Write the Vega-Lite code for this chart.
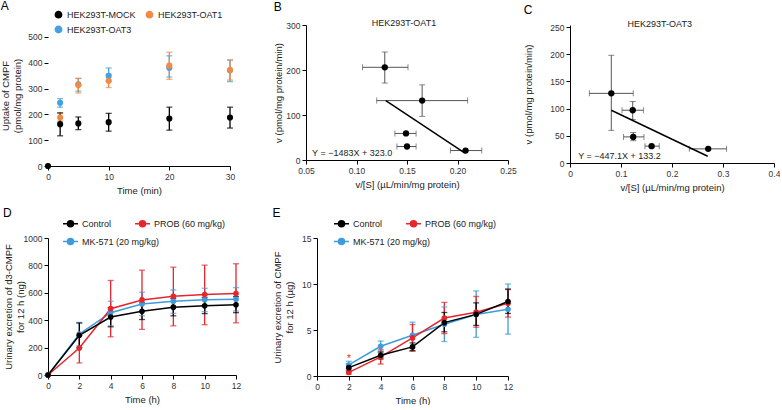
{
  "$schema": "https://vega.github.io/schema/vega-lite/v6.json",
  "background": "white",
  "padding": {"left": 0, "top": 0, "right": 0, "bottom": 0},
  "config": {
    "font": "Liberation Sans",
    "view": {"stroke": null},
    "axis": {"grid": false, "domainColor": "#000", "domainWidth": 1, "tickColor": "#000", "tickSize": 4, "labelFontSize": 8.5, "labelColor": "#333", "labelPadding": 2, "labelFlush": false, "labelOverlap": false, "titleFontSize": 9.5, "titleFontWeight": "normal", "titleColor": "#222", "titlePadding": 5, "titleLineHeight": 12, "labelFont": "Liberation Sans", "titleFont": "Liberation Sans"},
    "legend": {"labelFont": "Liberation Sans", "labelFontSize": 9, "labelColor": "#222"},
    "title": {"anchor": "start", "frame": "bounds", "fontSize": 12, "fontWeight": "normal", "color": "#000", "offset": 2, "font": "Liberation Sans"}
  },
  "datasets": {
    "uptake": [
      {"g": "HEK293T-OAT3", "t": 2, "y": 245, "lo": 228, "hi": 261},
      {"g": "HEK293T-OAT3", "t": 5, "y": 317, "lo": 290, "hi": 339},
      {"g": "HEK293T-OAT3", "t": 10, "y": 349, "lo": 328, "hi": 380},
      {"g": "HEK293T-OAT3", "t": 20, "y": 381, "lo": 345, "hi": 427},
      {"g": "HEK293T-OAT3", "t": 30, "y": 371, "lo": 327, "hi": 411},
      {"g": "HEK293T-OAT1", "t": 2, "y": 188, "lo": 174, "hi": 204},
      {"g": "HEK293T-OAT1", "t": 5, "y": 314, "lo": 283, "hi": 340},
      {"g": "HEK293T-OAT1", "t": 10, "y": 330, "lo": 304, "hi": 356},
      {"g": "HEK293T-OAT1", "t": 20, "y": 389, "lo": 336, "hi": 441},
      {"g": "HEK293T-OAT1", "t": 30, "y": 372, "lo": 333, "hi": 411},
      {"g": "HEK293T-MOCK", "t": 0, "y": 0, "lo": null, "hi": null},
      {"g": "HEK293T-MOCK", "t": 2, "y": 162, "lo": 117, "hi": 206},
      {"g": "HEK293T-MOCK", "t": 5, "y": 165, "lo": 141, "hi": 190},
      {"g": "HEK293T-MOCK", "t": 10, "y": 170, "lo": 135, "hi": 204},
      {"g": "HEK293T-MOCK", "t": 20, "y": 184, "lo": 139, "hi": 228},
      {"g": "HEK293T-MOCK", "t": 30, "y": 188, "lo": 147, "hi": 228}
    ],
    "oat1": [
      {"s": 0.128, "v": 206, "slo": 0.106, "shi": 0.151, "vlo": 171, "vhi": 240},
      {"s": 0.165, "v": 132, "slo": 0.120, "shi": 0.210, "vlo": 97, "vhi": 167},
      {"s": 0.149, "v": 59, "slo": 0.138, "shi": 0.159, "vlo": null, "vhi": null},
      {"s": 0.150, "v": 30, "slo": 0.140, "shi": 0.159, "vlo": null, "vhi": null},
      {"s": 0.208, "v": 21, "slo": 0.193, "shi": 0.224, "vlo": null, "vhi": null}
    ],
    "oat1fit": [{"s": 0.129, "v": 131.7}, {"s": 0.207, "v": 16.0}],
    "oat3": [
      {"s": 0.081, "v": 128, "slo": 0.038, "shi": 0.124, "vlo": 60, "vhi": 198},
      {"s": 0.123, "v": 97, "slo": 0.102, "shi": 0.144, "vlo": 80, "vhi": 113},
      {"s": 0.124, "v": 48, "slo": 0.105, "shi": 0.145, "vlo": 41, "vhi": 56},
      {"s": 0.160, "v": 31, "slo": 0.147, "shi": 0.175, "vlo": null, "vhi": null},
      {"s": 0.271, "v": 26, "slo": 0.234, "shi": 0.307, "vlo": null, "vhi": null}
    ],
    "oat3fit": [{"s": 0.081, "v": 97.0}, {"s": 0.270, "v": 12.5}],
    "d3": [
      {"g": "MK-571 (20 mg/kg)", "t": 0, "y": 0, "lo": null, "hi": null},
      {"g": "MK-571 (20 mg/kg)", "t": 2, "y": 298, "lo": 213, "hi": 384},
      {"g": "MK-571 (20 mg/kg)", "t": 4, "y": 455, "lo": 359, "hi": 538},
      {"g": "MK-571 (20 mg/kg)", "t": 6, "y": 518, "lo": 433, "hi": 604},
      {"g": "MK-571 (20 mg/kg)", "t": 8, "y": 538, "lo": 450, "hi": 621},
      {"g": "MK-571 (20 mg/kg)", "t": 10, "y": 550, "lo": 462, "hi": 633},
      {"g": "MK-571 (20 mg/kg)", "t": 12, "y": 553, "lo": 467, "hi": 638},
      {"g": "PROB (60 mg/kg)", "t": 0, "y": 0, "lo": null, "hi": null},
      {"g": "PROB (60 mg/kg)", "t": 2, "y": 197, "lo": 88, "hi": 288},
      {"g": "PROB (60 mg/kg)", "t": 4, "y": 484, "lo": 279, "hi": 690},
      {"g": "PROB (60 mg/kg)", "t": 6, "y": 548, "lo": 333, "hi": 765},
      {"g": "PROB (60 mg/kg)", "t": 8, "y": 575, "lo": 359, "hi": 787},
      {"g": "PROB (60 mg/kg)", "t": 10, "y": 587, "lo": 367, "hi": 802},
      {"g": "PROB (60 mg/kg)", "t": 12, "y": 595, "lo": 381, "hi": 812},
      {"g": "Control", "t": 0, "y": 0, "lo": null, "hi": null},
      {"g": "Control", "t": 2, "y": 290, "lo": 200, "hi": 379},
      {"g": "Control", "t": 4, "y": 423, "lo": 352, "hi": 492},
      {"g": "Control", "t": 6, "y": 465, "lo": 405, "hi": 527},
      {"g": "Control", "t": 8, "y": 495, "lo": 432, "hi": 558},
      {"g": "Control", "t": 10, "y": 505, "lo": 448, "hi": 565},
      {"g": "Control", "t": 12, "y": 513, "lo": 455, "hi": 572}
    ],
    "cmpf": [
      {"g": "MK-571 (20 mg/kg)", "t": 2, "y": 1.2, "lo": 0.85, "hi": 1.6},
      {"g": "MK-571 (20 mg/kg)", "t": 4, "y": 3.23, "lo": 2.7, "hi": 3.8},
      {"g": "MK-571 (20 mg/kg)", "t": 6, "y": 4.43, "lo": 3.1, "hi": 5.85},
      {"g": "MK-571 (20 mg/kg)", "t": 8, "y": 5.63, "lo": 3.75, "hi": 7.5},
      {"g": "MK-571 (20 mg/kg)", "t": 10, "y": 6.68, "lo": 4.2, "hi": 9.25},
      {"g": "MK-571 (20 mg/kg)", "t": 12, "y": 7.26, "lo": 4.55, "hi": 10.0},
      {"g": "PROB (60 mg/kg)", "t": 2, "y": 0.4, "lo": 0.2, "hi": 0.65},
      {"g": "PROB (60 mg/kg)", "t": 4, "y": 2.07, "lo": 1.3, "hi": 2.85},
      {"g": "PROB (60 mg/kg)", "t": 6, "y": 4.14, "lo": 2.7, "hi": 5.6},
      {"g": "PROB (60 mg/kg)", "t": 8, "y": 6.3, "lo": 4.6, "hi": 8.0},
      {"g": "PROB (60 mg/kg)", "t": 10, "y": 6.94, "lo": 5.3, "hi": 8.65},
      {"g": "PROB (60 mg/kg)", "t": 12, "y": 7.9, "lo": 6.4, "hi": 9.4},
      {"g": "Control", "t": 2, "y": 0.91, "lo": 0.5, "hi": 1.3},
      {"g": "Control", "t": 4, "y": 2.25, "lo": 1.85, "hi": 2.6},
      {"g": "Control", "t": 6, "y": 3.16, "lo": 2.75, "hi": 3.6},
      {"g": "Control", "t": 8, "y": 5.8, "lo": 4.8, "hi": 6.9},
      {"g": "Control", "t": 10, "y": 6.7, "lo": 5.5, "hi": 7.95},
      {"g": "Control", "t": 12, "y": 8.1, "lo": 6.8, "hi": 9.45}
    ],
    "star": [{"g": "PROB (60 mg/kg)", "t": 2, "y": 1.9, "label": "*"}]
  },
  "spacing": 12,
  "resolve": {"scale": {"color": "shared", "fill": "independent"}, "legend": {"color": "independent", "fill": "independent"}},
  "vconcat": [
    {
      "spacing": 38,
      "resolve": {"scale": {"color": "shared", "fill": "independent"}, "legend": {"color": "independent", "fill": "independent"}},
      "hconcat": [
        {
          "width": 182, "height": 141,
          "title": {"text": "A", "offset": -3},
          "data": {"name": "uptake"},
          "encoding": {
            "x": {"field": "t", "type": "quantitative", "scale": {"domain": [0, 30], "nice": false}, "axis": {"values": [0, 10, 20, 30]}, "title": "Time (min)"},
            "color": {
              "field": "g", "type": "nominal",
              "scale": {"domain": ["HEK293T-MOCK", "HEK293T-OAT1", "HEK293T-OAT3", "Control", "PROB (60 mg/kg)", "MK-571 (20 mg/kg)"], "range": ["#000000", "#F28A45", "#45A1DE", "#000000", "#E5262C", "#3F9CDA"]},
              "legend": {"values": ["HEK293T-MOCK", "HEK293T-OAT1", "HEK293T-OAT3"], "orient": "none", "legendX": 6, "legendY": -15, "direction": "horizontal", "columns": 2, "title": null, "symbolType": "circle", "symbolSize": 40, "columnPadding": 7, "rowPadding": 2, "labelOffset": 4,
                "encode": {"symbols": {"update": {"fill": {"scale": "color", "field": "value"}, "stroke": {"value": "transparent"}, "opacity": {"value": 1}}}}}
            }
          },
          "layer": [
            {"data": {"values": [{"a": 0}]}, "mark": {"type": "rule", "strokeWidth": 1, "color": "#000"}, "encoding": {
              "x": {"datum": 0, "type": "quantitative", "scale": {"domain": [0, 30], "nice": false}, "axis": {"values": [0, 10, 20, 30]}, "title": "Time (min)"},
              "y": {"datum": 0, "type": "quantitative", "scale": {"domain": [0, 546.5], "nice": false}, "axis": {"values": [0, 100, 200, 300, 400, 500], "titlePadding": 5, "domain": false}, "title": ["Uptake of CMPF", "(pmol/mg protein)"]},
              "y2": {"datum": 500}, "color": {"value": "#000"}}},
            {"mark": {"type": "rule", "strokeWidth": 1.3}, "encoding": {"y": {"field": "lo", "type": "quantitative", "scale": {"domain": [0, 546.5], "nice": false}, "axis": {"values": [0, 100, 200, 300, 400, 500], "titlePadding": 5, "domain": false}, "title": ["Uptake of CMPF", "(pmol/mg protein)"]}, "y2": {"field": "hi"}}},
            {"mark": {"type": "tick", "orient": "horizontal", "size": 6, "thickness": 1.3}, "encoding": {"y": {"field": "lo", "type": "quantitative", "scale": {"domain": [0, 546.5], "nice": false}, "axis": {"values": [0, 100, 200, 300, 400, 500], "titlePadding": 5, "domain": false}, "title": ["Uptake of CMPF", "(pmol/mg protein)"]}}},
            {"mark": {"type": "tick", "orient": "horizontal", "size": 6, "thickness": 1.3}, "encoding": {"y": {"field": "hi", "type": "quantitative", "scale": {"domain": [0, 546.5], "nice": false}, "axis": {"values": [0, 100, 200, 300, 400, 500], "titlePadding": 5, "domain": false}, "title": ["Uptake of CMPF", "(pmol/mg protein)"]}}},
            {"mark": {"type": "point", "filled": true, "size": 38, "opacity": 1, "clip": false}, "encoding": {"y": {"field": "y", "type": "quantitative", "scale": {"domain": [0, 546.5], "nice": false}, "axis": {"values": [0, 100, 200, 300, 400, 500], "titlePadding": 5, "domain": false}, "title": ["Uptake of CMPF", "(pmol/mg protein)"]}}}
          ]
        },
        {
          "spacing": 6,
          "resolve": {"scale": {"color": "shared", "fill": "independent"}, "legend": {"color": "independent", "fill": "independent"}},
          "hconcat": [
            {
              "width": 202, "height": 135,
              "title": {"text": "B", "offset": 5},
              "layer": [
                {"data": {"name": "oat1"}, "mark": {"type": "rule", "color": "#555", "strokeWidth": 1}, "encoding": {
                  "x": {"field": "slo", "type": "quantitative", "scale": {"domain": [0.05, 0.25], "nice": false}, "axis": {"values": [0.05, 0.1, 0.15, 0.2, 0.25], "format": ".2f"}, "title": "v/[S] (µL/min/mg protein)"},
                  "x2": {"field": "shi"},
                  "y": {"field": "v", "type": "quantitative", "scale": {"domain": [0, 300], "nice": false}, "axis": {"values": [0, 100, 200, 300], "titlePadding": 2}, "title": "v (pmol/mg protein/min)"}}},
                {"data": {"name": "oat1"}, "mark": {"type": "tick", "orient": "vertical", "color": "#555", "size": 6, "thickness": 1}, "encoding": {
                  "x": {"field": "slo", "type": "quantitative", "scale": {"domain": [0.05, 0.25], "nice": false}, "axis": {"values": [0.05, 0.1, 0.15, 0.2, 0.25], "format": ".2f"}, "title": "v/[S] (µL/min/mg protein)"},
                  "y": {"field": "v", "type": "quantitative", "scale": {"domain": [0, 300], "nice": false}, "axis": {"values": [0, 100, 200, 300], "titlePadding": 2}, "title": "v (pmol/mg protein/min)"}}},
                {"data": {"name": "oat1"}, "mark": {"type": "tick", "orient": "vertical", "color": "#555", "size": 6, "thickness": 1}, "encoding": {
                  "x": {"field": "shi", "type": "quantitative", "scale": {"domain": [0.05, 0.25], "nice": false}, "axis": {"values": [0.05, 0.1, 0.15, 0.2, 0.25], "format": ".2f"}, "title": "v/[S] (µL/min/mg protein)"},
                  "y": {"field": "v", "type": "quantitative", "scale": {"domain": [0, 300], "nice": false}, "axis": {"values": [0, 100, 200, 300], "titlePadding": 2}, "title": "v (pmol/mg protein/min)"}}},
                {"data": {"name": "oat1"}, "mark": {"type": "rule", "color": "#555", "strokeWidth": 1}, "encoding": {
                  "x": {"field": "s", "type": "quantitative", "scale": {"domain": [0.05, 0.25], "nice": false}, "axis": {"values": [0.05, 0.1, 0.15, 0.2, 0.25], "format": ".2f"}, "title": "v/[S] (µL/min/mg protein)"},
                  "y": {"field": "vlo", "type": "quantitative", "scale": {"domain": [0, 300], "nice": false}, "axis": {"values": [0, 100, 200, 300], "titlePadding": 2}, "title": "v (pmol/mg protein/min)"},
                  "y2": {"field": "vhi"}}},
                {"data": {"name": "oat1"}, "mark": {"type": "tick", "orient": "horizontal", "color": "#555", "size": 6, "thickness": 1}, "encoding": {
                  "x": {"field": "s", "type": "quantitative", "scale": {"domain": [0.05, 0.25], "nice": false}, "axis": {"values": [0.05, 0.1, 0.15, 0.2, 0.25], "format": ".2f"}, "title": "v/[S] (µL/min/mg protein)"},
                  "y": {"field": "vlo", "type": "quantitative", "scale": {"domain": [0, 300], "nice": false}, "axis": {"values": [0, 100, 200, 300], "titlePadding": 2}, "title": "v (pmol/mg protein/min)"}}},
                {"data": {"name": "oat1"}, "mark": {"type": "tick", "orient": "horizontal", "color": "#555", "size": 6, "thickness": 1}, "encoding": {
                  "x": {"field": "s", "type": "quantitative", "scale": {"domain": [0.05, 0.25], "nice": false}, "axis": {"values": [0.05, 0.1, 0.15, 0.2, 0.25], "format": ".2f"}, "title": "v/[S] (µL/min/mg protein)"},
                  "y": {"field": "vhi", "type": "quantitative", "scale": {"domain": [0, 300], "nice": false}, "axis": {"values": [0, 100, 200, 300], "titlePadding": 2}, "title": "v (pmol/mg protein/min)"}}},
                {"data": {"name": "oat1fit"}, "mark": {"type": "line", "color": "#000", "strokeWidth": 1.5}, "encoding": {
                  "x": {"field": "s", "type": "quantitative", "scale": {"domain": [0.05, 0.25], "nice": false}, "axis": {"values": [0.05, 0.1, 0.15, 0.2, 0.25], "format": ".2f"}, "title": "v/[S] (µL/min/mg protein)"},
                  "y": {"field": "v", "type": "quantitative", "scale": {"domain": [0, 300], "nice": false}, "axis": {"values": [0, 100, 200, 300], "titlePadding": 2}, "title": "v (pmol/mg protein/min)"}}},
                {"data": {"name": "oat1"}, "mark": {"type": "point", "filled": true, "color": "#000", "size": 40, "opacity": 1}, "encoding": {
                  "x": {"field": "s", "type": "quantitative", "scale": {"domain": [0.05, 0.25], "nice": false}, "axis": {"values": [0.05, 0.1, 0.15, 0.2, 0.25], "format": ".2f"}, "title": "v/[S] (µL/min/mg protein)"},
                  "y": {"field": "v", "type": "quantitative", "scale": {"domain": [0, 300], "nice": false}, "axis": {"values": [0, 100, 200, 300], "titlePadding": 2}, "title": "v (pmol/mg protein/min)"}}},
                {"data": {"values": [{"label": "HEK293T-OAT1"}]}, "mark": {"type": "text", "fontSize": 9, "color": "#222", "dy": -2, "font": "Liberation Sans"}, "encoding": {
                  "x": {"datum": 0.147, "type": "quantitative", "scale": {"domain": [0.05, 0.25], "nice": false}, "axis": {"values": [0.05, 0.1, 0.15, 0.2, 0.25], "format": ".2f"}, "title": "v/[S] (µL/min/mg protein)"},
                  "y": {"datum": 300, "type": "quantitative", "scale": {"domain": [0, 300], "nice": false}, "axis": {"values": [0, 100, 200, 300], "titlePadding": 2}, "title": "v (pmol/mg protein/min)"},
                  "text": {"field": "label"}}},
                {"data": {"values": [{"label": "Y = −1483X + 323.0"}]}, "mark": {"type": "text", "fontSize": 9, "color": "#222", "align": "left", "font": "Liberation Sans"}, "encoding": {
                  "x": {"datum": 0.056, "type": "quantitative", "scale": {"domain": [0.05, 0.25], "nice": false}, "axis": {"values": [0.05, 0.1, 0.15, 0.2, 0.25], "format": ".2f"}, "title": "v/[S] (µL/min/mg protein)"},
                  "y": {"datum": 15.5, "type": "quantitative", "scale": {"domain": [0, 300], "nice": false}, "axis": {"values": [0, 100, 200, 300], "titlePadding": 2}, "title": "v (pmol/mg protein/min)"},
                  "text": {"field": "label"}}}
              ]
            },
            {
              "width": 204, "height": 138,
              "title": {"text": "C", "offset": 3},
              "layer": [
                {"data": {"name": "oat3"}, "mark": {"type": "rule", "color": "#555", "strokeWidth": 1}, "encoding": {
                  "x": {"field": "slo", "type": "quantitative", "scale": {"domain": [0, 0.4], "nice": false}, "axis": {"values": [0, 0.1, 0.2, 0.3, 0.4], "format": "~g"}, "title": "v/[S] (µL/min/mg protein)"},
                  "x2": {"field": "shi"},
                  "y": {"field": "v", "type": "quantitative", "scale": {"domain": [0, 253.7], "nice": false}, "axis": {"values": [0, 50, 100, 150, 200, 250], "titlePadding": 16}, "title": "v (pmol/mg protein/min)"}}},
                {"data": {"name": "oat3"}, "mark": {"type": "tick", "orient": "vertical", "color": "#555", "size": 6, "thickness": 1}, "encoding": {
                  "x": {"field": "slo", "type": "quantitative", "scale": {"domain": [0, 0.4], "nice": false}, "axis": {"values": [0, 0.1, 0.2, 0.3, 0.4], "format": "~g"}, "title": "v/[S] (µL/min/mg protein)"},
                  "y": {"field": "v", "type": "quantitative", "scale": {"domain": [0, 253.7], "nice": false}, "axis": {"values": [0, 50, 100, 150, 200, 250], "titlePadding": 16}, "title": "v (pmol/mg protein/min)"}}},
                {"data": {"name": "oat3"}, "mark": {"type": "tick", "orient": "vertical", "color": "#555", "size": 6, "thickness": 1}, "encoding": {
                  "x": {"field": "shi", "type": "quantitative", "scale": {"domain": [0, 0.4], "nice": false}, "axis": {"values": [0, 0.1, 0.2, 0.3, 0.4], "format": "~g"}, "title": "v/[S] (µL/min/mg protein)"},
                  "y": {"field": "v", "type": "quantitative", "scale": {"domain": [0, 253.7], "nice": false}, "axis": {"values": [0, 50, 100, 150, 200, 250], "titlePadding": 16}, "title": "v (pmol/mg protein/min)"}}},
                {"data": {"name": "oat3"}, "mark": {"type": "rule", "color": "#555", "strokeWidth": 1}, "encoding": {
                  "x": {"field": "s", "type": "quantitative", "scale": {"domain": [0, 0.4], "nice": false}, "axis": {"values": [0, 0.1, 0.2, 0.3, 0.4], "format": "~g"}, "title": "v/[S] (µL/min/mg protein)"},
                  "y": {"field": "vlo", "type": "quantitative", "scale": {"domain": [0, 253.7], "nice": false}, "axis": {"values": [0, 50, 100, 150, 200, 250], "titlePadding": 16}, "title": "v (pmol/mg protein/min)"},
                  "y2": {"field": "vhi"}}},
                {"data": {"name": "oat3"}, "mark": {"type": "tick", "orient": "horizontal", "color": "#555", "size": 6, "thickness": 1}, "encoding": {
                  "x": {"field": "s", "type": "quantitative", "scale": {"domain": [0, 0.4], "nice": false}, "axis": {"values": [0, 0.1, 0.2, 0.3, 0.4], "format": "~g"}, "title": "v/[S] (µL/min/mg protein)"},
                  "y": {"field": "vlo", "type": "quantitative", "scale": {"domain": [0, 253.7], "nice": false}, "axis": {"values": [0, 50, 100, 150, 200, 250], "titlePadding": 16}, "title": "v (pmol/mg protein/min)"}}},
                {"data": {"name": "oat3"}, "mark": {"type": "tick", "orient": "horizontal", "color": "#555", "size": 6, "thickness": 1}, "encoding": {
                  "x": {"field": "s", "type": "quantitative", "scale": {"domain": [0, 0.4], "nice": false}, "axis": {"values": [0, 0.1, 0.2, 0.3, 0.4], "format": "~g"}, "title": "v/[S] (µL/min/mg protein)"},
                  "y": {"field": "vhi", "type": "quantitative", "scale": {"domain": [0, 253.7], "nice": false}, "axis": {"values": [0, 50, 100, 150, 200, 250], "titlePadding": 16}, "title": "v (pmol/mg protein/min)"}}},
                {"data": {"name": "oat3fit"}, "mark": {"type": "line", "color": "#000", "strokeWidth": 1.5}, "encoding": {
                  "x": {"field": "s", "type": "quantitative", "scale": {"domain": [0, 0.4], "nice": false}, "axis": {"values": [0, 0.1, 0.2, 0.3, 0.4], "format": "~g"}, "title": "v/[S] (µL/min/mg protein)"},
                  "y": {"field": "v", "type": "quantitative", "scale": {"domain": [0, 253.7], "nice": false}, "axis": {"values": [0, 50, 100, 150, 200, 250], "titlePadding": 16}, "title": "v (pmol/mg protein/min)"}}},
                {"data": {"name": "oat3"}, "mark": {"type": "point", "filled": true, "color": "#000", "size": 40, "opacity": 1}, "encoding": {
                  "x": {"field": "s", "type": "quantitative", "scale": {"domain": [0, 0.4], "nice": false}, "axis": {"values": [0, 0.1, 0.2, 0.3, 0.4], "format": "~g"}, "title": "v/[S] (µL/min/mg protein)"},
                  "y": {"field": "v", "type": "quantitative", "scale": {"domain": [0, 253.7], "nice": false}, "axis": {"values": [0, 50, 100, 150, 200, 250], "titlePadding": 16}, "title": "v (pmol/mg protein/min)"}}},
                {"data": {"values": [{"label": "HEK293T-OAT3"}]}, "mark": {"type": "text", "fontSize": 9, "color": "#222", "dy": -3, "font": "Liberation Sans"}, "encoding": {
                  "x": {"datum": 0.176, "type": "quantitative", "scale": {"domain": [0, 0.4], "nice": false}, "axis": {"values": [0, 0.1, 0.2, 0.3, 0.4], "format": "~g"}, "title": "v/[S] (µL/min/mg protein)"},
                  "y": {"datum": 250, "type": "quantitative", "scale": {"domain": [0, 253.7], "nice": false}, "axis": {"values": [0, 50, 100, 150, 200, 250], "titlePadding": 16}, "title": "v (pmol/mg protein/min)"},
                  "text": {"field": "label"}}},
                {"data": {"values": [{"label": "Y = −447.1X + 133.2"}]}, "mark": {"type": "text", "fontSize": 9, "color": "#222", "align": "left", "font": "Liberation Sans"}, "encoding": {
                  "x": {"datum": 0.016, "type": "quantitative", "scale": {"domain": [0, 0.4], "nice": false}, "axis": {"values": [0, 0.1, 0.2, 0.3, 0.4], "format": "~g"}, "title": "v/[S] (µL/min/mg protein)"},
                  "y": {"datum": 13, "type": "quantitative", "scale": {"domain": [0, 253.7], "nice": false}, "axis": {"values": [0, 50, 100, 150, 200, 250], "titlePadding": 16}, "title": "v (pmol/mg protein/min)"},
                  "text": {"field": "label"}}}
              ]
            }
          ]
        }
      ]
    },
    {
      "spacing": 31,
      "resolve": {"scale": {"color": "shared", "fill": "independent"}, "legend": {"color": "independent", "fill": "independent"}},
      "hconcat": [
        {
          "width": 188, "height": 137,
          "title": {"text": "D", "offset": -5},
          "data": {"name": "d3"},
          "encoding": {
            "x": {"field": "t", "type": "quantitative", "scale": {"domain": [0, 12], "nice": false}, "axis": {"values": [0, 2, 4, 6, 8, 10, 12]}, "title": "Time (h)"},
            "color": {
              "field": "g", "type": "nominal",
              "scale": {"domain": ["HEK293T-MOCK", "HEK293T-OAT1", "HEK293T-OAT3", "Control", "PROB (60 mg/kg)", "MK-571 (20 mg/kg)"], "range": ["#000000", "#F28A45", "#45A1DE", "#000000", "#E5262C", "#3F9CDA"]},
              "legend": {"values": ["Control", "PROB (60 mg/kg)"], "orient": "none", "legendX": 14, "legendY": -23, "direction": "horizontal", "title": null, "symbolType": "M -1 0 L 1 0 M -0.4 0 A 0.4 0.4 0 1 0 0.4 0 A 0.4 0.4 0 1 0 -0.4 0 Z", "symbolSize": 225, "symbolStrokeWidth": 1.5, "columnPadding": 20, "labelOffset": 3,
                "encode": {"symbols": {"update": {"fill": {"scale": "color", "field": "value"}, "stroke": {"scale": "color", "field": "value"}, "strokeWidth": {"value": 1.5}, "opacity": {"value": 1}}}}}
            }
          },
          "layer": [
            {"mark": {"type": "rule", "strokeWidth": 1.3}, "encoding": {"y": {"field": "lo", "type": "quantitative", "scale": {"domain": [0, 1000], "nice": false}, "axis": {"values": [0, 200, 400, 600, 800, 1000], "format": "d", "titlePadding": -2}, "title": ["Urinary excretion of d3-CMPF", "for 12 h (ng)"]}, "y2": {"field": "hi"}}},
            {"mark": {"type": "tick", "orient": "horizontal", "size": 6, "thickness": 1.3}, "encoding": {"y": {"field": "lo", "type": "quantitative", "scale": {"domain": [0, 1000], "nice": false}, "axis": {"values": [0, 200, 400, 600, 800, 1000], "format": "d", "titlePadding": -2}, "title": ["Urinary excretion of d3-CMPF", "for 12 h (ng)"]}}},
            {"mark": {"type": "tick", "orient": "horizontal", "size": 6, "thickness": 1.3}, "encoding": {"y": {"field": "hi", "type": "quantitative", "scale": {"domain": [0, 1000], "nice": false}, "axis": {"values": [0, 200, 400, 600, 800, 1000], "format": "d", "titlePadding": -2}, "title": ["Urinary excretion of d3-CMPF", "for 12 h (ng)"]}}},
            {"mark": {"type": "line", "strokeWidth": 1.5}, "encoding": {"y": {"field": "y", "type": "quantitative", "scale": {"domain": [0, 1000], "nice": false}, "axis": {"values": [0, 200, 400, 600, 800, 1000], "format": "d", "titlePadding": -2}, "title": ["Urinary excretion of d3-CMPF", "for 12 h (ng)"]}}},
            {"mark": {"type": "point", "filled": true, "size": 32, "opacity": 1, "clip": false}, "encoding": {"y": {"field": "y", "type": "quantitative", "scale": {"domain": [0, 1000], "nice": false}, "axis": {"values": [0, 200, 400, 600, 800, 1000], "format": "d", "titlePadding": -2}, "title": ["Urinary excretion of d3-CMPF", "for 12 h (ng)"]}}},
            {"transform": [{"filter": "datum.g === 'MK-571 (20 mg/kg)'"}], "mark": {"type": "point", "filled": true, "opacity": 0}, "encoding": {
              "y": {"field": "y", "type": "quantitative", "scale": {"domain": [0, 1000], "nice": false}, "axis": {"values": [0, 200, 400, 600, 800, 1000], "format": "d", "titlePadding": -2}, "title": ["Urinary excretion of d3-CMPF", "for 12 h (ng)"]},
              "fill": {"field": "g", "type": "nominal", "scale": {"domain": ["MK-571 (20 mg/kg)"], "range": ["#3F9CDA"]},
                "legend": {"orient": "none", "legendX": 14, "legendY": -5, "title": null, "symbolType": "M -1 0 L 1 0 M -0.4 0 A 0.4 0.4 0 1 0 0.4 0 A 0.4 0.4 0 1 0 -0.4 0 Z", "symbolSize": 225, "symbolStrokeWidth": 1.5, "symbolStrokeColor": "#3F9CDA", "labelOffset": 3,
                  "encode": {"symbols": {"update": {"fill": {"value": "#3F9CDA"}, "fillOpacity": {"value": 1}, "stroke": {"value": "#3F9CDA"}, "strokeWidth": {"value": 1.5}, "opacity": {"value": 1}}}}}}}}
          ]
        },
        {
          "width": 191, "height": 138,
          "title": {"text": "E", "offset": -5},
          "data": {"name": "cmpf"},
          "encoding": {
            "x": {"field": "t", "type": "quantitative", "scale": {"domain": [0, 12], "nice": false}, "axis": {"values": [0, 2, 4, 6, 8, 10, 12]}, "title": "Time (h)"},
            "color": {
              "field": "g", "type": "nominal",
              "scale": {"domain": ["HEK293T-MOCK", "HEK293T-OAT1", "HEK293T-OAT3", "Control", "PROB (60 mg/kg)", "MK-571 (20 mg/kg)"], "range": ["#000000", "#F28A45", "#45A1DE", "#000000", "#E5262C", "#3F9CDA"]},
              "legend": {"values": ["Control", "PROB (60 mg/kg)"], "orient": "none", "legendX": 16, "legendY": -23, "direction": "horizontal", "title": null, "symbolType": "M -1 0 L 1 0 M -0.4 0 A 0.4 0.4 0 1 0 0.4 0 A 0.4 0.4 0 1 0 -0.4 0 Z", "symbolSize": 225, "symbolStrokeWidth": 1.5, "columnPadding": 20, "labelOffset": 3,
                "encode": {"symbols": {"update": {"fill": {"scale": "color", "field": "value"}, "stroke": {"scale": "color", "field": "value"}, "strokeWidth": {"value": 1.5}, "opacity": {"value": 1}}}}}
            }
          },
          "layer": [
            {"mark": {"type": "rule", "strokeWidth": 1.3}, "encoding": {"y": {"field": "lo", "type": "quantitative", "scale": {"domain": [0, 15], "nice": false}, "axis": {"values": [0, 5, 10, 15], "titlePadding": 7}, "title": ["Urinary excretion of CMPF", "for 12 h (µg)"]}, "y2": {"field": "hi"}}},
            {"mark": {"type": "tick", "orient": "horizontal", "size": 6, "thickness": 1.3}, "encoding": {"y": {"field": "lo", "type": "quantitative", "scale": {"domain": [0, 15], "nice": false}, "axis": {"values": [0, 5, 10, 15], "titlePadding": 7}, "title": ["Urinary excretion of CMPF", "for 12 h (µg)"]}}},
            {"mark": {"type": "tick", "orient": "horizontal", "size": 6, "thickness": 1.3}, "encoding": {"y": {"field": "hi", "type": "quantitative", "scale": {"domain": [0, 15], "nice": false}, "axis": {"values": [0, 5, 10, 15], "titlePadding": 7}, "title": ["Urinary excretion of CMPF", "for 12 h (µg)"]}}},
            {"mark": {"type": "line", "strokeWidth": 1.5}, "encoding": {"y": {"field": "y", "type": "quantitative", "scale": {"domain": [0, 15], "nice": false}, "axis": {"values": [0, 5, 10, 15], "titlePadding": 7}, "title": ["Urinary excretion of CMPF", "for 12 h (µg)"]}}},
            {"mark": {"type": "point", "filled": true, "size": 32, "opacity": 1}, "encoding": {"y": {"field": "y", "type": "quantitative", "scale": {"domain": [0, 15], "nice": false}, "axis": {"values": [0, 5, 10, 15], "titlePadding": 7}, "title": ["Urinary excretion of CMPF", "for 12 h (µg)"]}}},
            {"data": {"name": "star"}, "mark": {"type": "text", "fontSize": 10, "font": "Liberation Sans"}, "encoding": {"y": {"field": "y", "type": "quantitative", "scale": {"domain": [0, 15], "nice": false}, "axis": {"values": [0, 5, 10, 15], "titlePadding": 7}, "title": ["Urinary excretion of CMPF", "for 12 h (µg)"]}, "text": {"field": "label"}}},
            {"transform": [{"filter": "datum.g === 'MK-571 (20 mg/kg)'"}], "mark": {"type": "point", "filled": true, "opacity": 0}, "encoding": {
              "y": {"field": "y", "type": "quantitative", "scale": {"domain": [0, 15], "nice": false}, "axis": {"values": [0, 5, 10, 15], "titlePadding": 7}, "title": ["Urinary excretion of CMPF", "for 12 h (µg)"]},
              "fill": {"field": "g", "type": "nominal", "scale": {"domain": ["MK-571 (20 mg/kg)"], "range": ["#3F9CDA"]},
                "legend": {"orient": "none", "legendX": 16, "legendY": -5, "title": null, "symbolType": "M -1 0 L 1 0 M -0.4 0 A 0.4 0.4 0 1 0 0.4 0 A 0.4 0.4 0 1 0 -0.4 0 Z", "symbolSize": 225, "symbolStrokeWidth": 1.5, "symbolStrokeColor": "#3F9CDA", "labelOffset": 3,
                  "encode": {"symbols": {"update": {"fill": {"value": "#3F9CDA"}, "fillOpacity": {"value": 1}, "stroke": {"value": "#3F9CDA"}, "strokeWidth": {"value": 1.5}, "opacity": {"value": 1}}}}}}}}
          ]
        }
      ]
    }
  ]
}
